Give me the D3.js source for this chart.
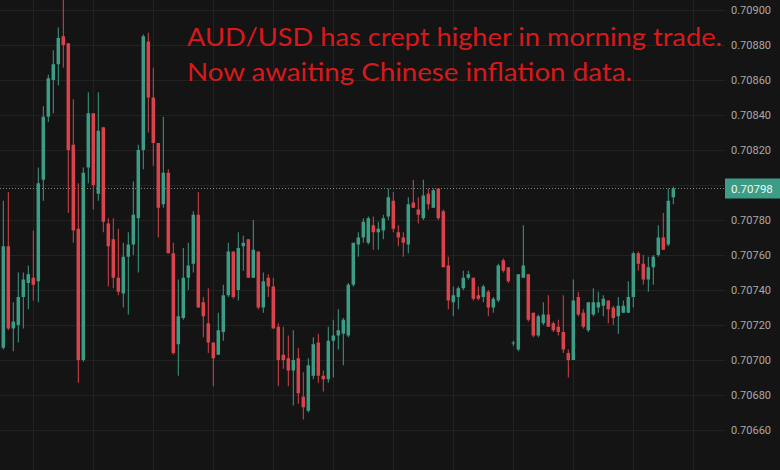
<!DOCTYPE html>
<html>
<head>
<meta charset="utf-8">
<script src="https://cdn.jsdelivr.net/npm/d3@7"></script>
<style>
  html, body { margin: 0; padding: 0; background: #141414; }
  #chart { width: 780px; height: 470px; }
</style>
</head>
<body>
<div id="chart"></div>
<script>
// AUD/USD candles, prices
const opens = [0.70707,0.70765,0.70718,0.70720,0.70736,0.70744,0.70747,0.70745,0.70803,0.70839,
  0.70860,0.70869,0.70885,0.70881,0.70823,0.70775,0.70700,0.70810,0.70841,0.70795,
  0.70833,0.70778,0.70769,0.70747,0.70738,0.70759,0.70766,0.70781,0.70820,0.70882,
  0.70850,0.70824,0.70789,0.70807,0.70761,0.70709,0.70724,0.70747,0.70755,0.70783,
  0.70733,0.70721,0.70710,0.70703,0.70716,0.70737,0.70762,0.70740,0.70765,0.70769,
  0.70747,0.70762,0.70730,0.70747,0.70742,0.70719,0.70703,0.70701,0.70694,0.70701,
  0.70679,0.70671,0.70691,0.70710,0.70691,0.70689,0.70711,0.70714,0.70715,0.70714,
  0.70743,0.70766,0.70770,0.70767,0.70777,0.70773,0.70774,0.70782,0.70791,0.70773,
  0.70770,0.70766,0.70790,0.70786,0.70781,0.70795,0.70787,0.70798,0.70785,0.70754,
  0.70733,0.70736,0.70741,0.70747,0.70747,0.70737,0.70736,0.70739,0.70730,0.70734,
  0.70757,0.70753,0.70710,0.70706,0.70747,0.70749,0.70727,0.70714,0.70721,0.70726,
  0.70721,0.70719,0.70716,0.70704,0.70700,0.70736,0.70727,0.70717,0.70726,0.70730,
  0.70731,0.70734,0.70730,0.70725,0.70727,0.70727,0.70736,0.70761,0.70755,0.70746,
  0.70753,0.70760,0.70770,0.70766,0.70793];
const highs = [0.70791,0.70796,0.70733,0.70750,0.70750,0.70754,0.70774,0.70810,0.70845,0.70863,
  0.70877,0.70890,0.70908,0.70881,0.70849,0.70801,0.70810,0.70853,0.70841,0.70853,
  0.70833,0.70781,0.70781,0.70775,0.70767,0.70773,0.70802,0.70823,0.70886,0.70887,
  0.70867,0.70824,0.70839,0.70809,0.70767,0.70746,0.70764,0.70767,0.70785,0.70796,
  0.70736,0.70741,0.70710,0.70727,0.70743,0.70767,0.70762,0.70773,0.70771,0.70769,
  0.70780,0.70762,0.70750,0.70749,0.70747,0.70721,0.70719,0.70714,0.70717,0.70707,
  0.70693,0.70701,0.70713,0.70715,0.70694,0.70719,0.70723,0.70729,0.70724,0.70744,
  0.70767,0.70773,0.70781,0.70782,0.70782,0.70779,0.70783,0.70798,0.70796,0.70777,
  0.70773,0.70793,0.70803,0.70793,0.70803,0.70798,0.70798,0.70798,0.70786,0.70759,
  0.70742,0.70742,0.70751,0.70751,0.70747,0.70742,0.70743,0.70740,0.70736,0.70755,
  0.70758,0.70753,0.70711,0.70749,0.70777,0.70749,0.70727,0.70726,0.70733,0.70737,
  0.70722,0.70723,0.70737,0.70706,0.70746,0.70739,0.70729,0.70733,0.70741,0.70739,
  0.70737,0.70734,0.70731,0.70736,0.70734,0.70745,0.70762,0.70762,0.70760,0.70759,
  0.70760,0.70777,0.70784,0.70798,0.70799];
const lows = [0.70706,0.70717,0.70705,0.70710,0.70718,0.70729,0.70734,0.70733,0.70791,0.70836,
  0.70841,0.70857,0.70867,0.70784,0.70767,0.70687,0.70699,0.70801,0.70786,0.70791,
  0.70773,0.70742,0.70741,0.70737,0.70730,0.70726,0.70760,0.70750,0.70809,0.70830,
  0.70811,0.70770,0.70787,0.70761,0.70703,0.70691,0.70723,0.70740,0.70750,0.70730,
  0.70713,0.70704,0.70685,0.70703,0.70711,0.70736,0.70735,0.70734,0.70751,0.70747,
  0.70747,0.70729,0.70727,0.70736,0.70718,0.70685,0.70695,0.70685,0.70674,0.70675,
  0.70666,0.70670,0.70689,0.70687,0.70682,0.70687,0.70690,0.70706,0.70697,0.70713,
  0.70742,0.70759,0.70767,0.70766,0.70763,0.70763,0.70769,0.70780,0.70773,0.70765,
  0.70759,0.70761,0.70787,0.70778,0.70780,0.70786,0.70787,0.70780,0.70753,0.70729,
  0.70725,0.70729,0.70740,0.70746,0.70734,0.70734,0.70733,0.70725,0.70727,0.70733,
  0.70750,0.70744,0.70708,0.70705,0.70747,0.70722,0.70713,0.70713,0.70720,0.70719,
  0.70716,0.70714,0.70704,0.70690,0.70700,0.70725,0.70718,0.70716,0.70725,0.70727,
  0.70725,0.70721,0.70720,0.70715,0.70727,0.70727,0.70730,0.70751,0.70743,0.70739,
  0.70743,0.70759,0.70763,0.70765,0.70789];
const closes = [0.70765,0.70718,0.70722,0.70736,0.70746,0.70749,0.70743,0.70801,0.70839,0.70861,
  0.70869,0.70884,0.70880,0.70820,0.70774,0.70700,0.70807,0.70841,0.70800,0.70831,
  0.70779,0.70765,0.70747,0.70739,0.70759,0.70766,0.70783,0.70820,0.70885,0.70850,
  0.70824,0.70787,0.70807,0.70761,0.70704,0.70725,0.70747,0.70754,0.70783,0.70730,
  0.70725,0.70710,0.70701,0.70717,0.70737,0.70762,0.70736,0.70764,0.70767,0.70747,
  0.70763,0.70730,0.70745,0.70742,0.70718,0.70700,0.70700,0.70694,0.70700,0.70681,
  0.70673,0.70697,0.70709,0.70691,0.70689,0.70711,0.70714,0.70717,0.70723,0.70743,
  0.70767,0.70770,0.70779,0.70781,0.70773,0.70775,0.70781,0.70793,0.70775,0.70770,
  0.70767,0.70789,0.70787,0.70783,0.70794,0.70789,0.70797,0.70781,0.70753,0.70734,
  0.70737,0.70741,0.70747,0.70749,0.70735,0.70735,0.70742,0.70730,0.70735,0.70754,
  0.70751,0.70745,0.70710,0.70749,0.70754,0.70723,0.70714,0.70725,0.70726,0.70719,
  0.70717,0.70716,0.70706,0.70700,0.70734,0.70726,0.70719,0.70733,0.70733,0.70733,
  0.70735,0.70729,0.70724,0.70731,0.70731,0.70736,0.70761,0.70755,0.70746,0.70753,
  0.70759,0.70770,0.70763,0.70791,0.70798];

const priceTicks = [0.7090,0.7088,0.7086,0.7084,0.7082,0.7080,0.7078,0.7076,0.7074,0.7072,0.7070,0.7068,0.7066];
const lastPrice = 0.70798;
const slots = 145; // visible bar slots, incl. empty space on the right

const titleLines = ["AUD/USD has crept higher in morning trade.", "Now awaiting Chinese inflation data."];

const W = 780, H = 470, plotRight = 725;
const upColor = "#3c9c86", downColor = "#d9434b";

const candles = opens.map((o, i) => ({i: i, o: o, h: highs[i], l: lows[i], c: closes[i]}));

const svg = d3.select("#chart").append("svg")
    .attr("width", W)
    .attr("height", H);

svg.append("rect").attr("width", W).attr("height", H).attr("fill", "#141414");

const x = d3.scaleLinear().domain([0, slots]).range([3.3, 3.3 + 5 * slots]);
const y = d3.scaleLinear().domain([0.7066, 0.7090]).range([430, 10]);

// grid
svg.append("g").selectAll("line.h")
    .data(priceTicks)
    .join("line")
    .attr("x1", 0).attr("x2", plotRight)
    .attr("y1", d => Math.round(y(d)) + 0.5).attr("y2", d => Math.round(y(d)) + 0.5)
    .attr("stroke", "#222222");

svg.append("g").selectAll("line.v")
    .data(d3.range(6, slots, 12))
    .join("line")
    .attr("x1", d => Math.round(x(d)) + 0.5).attr("x2", d => Math.round(x(d)) + 0.5)
    .attr("y1", 0).attr("y2", H)
    .attr("stroke", "#222222");

// last price line
svg.append("line")
    .attr("x1", 0).attr("x2", plotRight)
    .attr("y1", y(lastPrice)).attr("y2", y(lastPrice))
    .attr("stroke", "#7d8a86")
    .attr("stroke-dasharray", "1,2");

// candles
const g = svg.append("g");
g.selectAll("line.wick")
    .data(candles)
    .join("line")
    .attr("class", "wick")
    .attr("x1", d => x(d.i)).attr("x2", d => x(d.i))
    .attr("y1", d => y(d.h)).attr("y2", d => y(d.l))
    .attr("stroke", d => d.c >= d.o ? upColor : downColor)
    .attr("stroke-width", 1);

g.selectAll("rect.body")
    .data(candles)
    .join("rect")
    .attr("class", "body")
    .attr("x", d => x(d.i) - 1.75)
    .attr("width", 3.5)
    .attr("y", d => y(Math.max(d.o, d.c)))
    .attr("height", d => Math.max(1, Math.abs(y(d.o) - y(d.c))))
    .attr("fill", d => d.c >= d.o ? upColor : downColor);

// right price axis (tick hidden under the last-price tag is skipped)
const axis = svg.append("g").attr("transform", `translate(${plotRight},0)`);
axis.append("rect").attr("width", W - plotRight).attr("height", H).attr("fill", "#141414");
axis.selectAll("text")
    .data(priceTicks.filter(d => Math.abs(y(d) - y(lastPrice)) > 12))
    .join("text")
    .attr("x", 6)
    .attr("y", d => y(d))
    .attr("dy", "0.35em")
    .attr("fill", "#a9a9a9")
    .attr("font-family", "Roboto, 'Noto Sans', sans-serif")
    .attr("font-size", 11)
    .text(d => d3.format(".5f")(d));

axis.append("rect")
    .attr("x", 0).attr("y", y(lastPrice) - 10)
    .attr("width", W - plotRight).attr("height", 20)
    .attr("fill", "#3c9c86");
axis.append("text")
    .attr("x", 6).attr("y", y(lastPrice))
    .attr("dy", "0.35em")
    .attr("fill", "#eef7f4")
    .attr("font-family", "Roboto, 'Noto Sans', sans-serif")
    .attr("font-size", 11.5)
    .text(d3.format(".5f")(lastPrice));

// annotation
svg.selectAll("text.note")
    .data(titleLines)
    .join("text")
    .attr("class", "note")
    .attr("x", 187)
    .attr("y", (d, i) => 46 + i * 35)
    .attr("fill", "#d8191b")
    .attr("font-family", "Lato, 'Open Sans', sans-serif")
    .attr("font-size", 25)
    .attr("textLength", (d, i) => i === 0 ? 535 : 445)
    .attr("lengthAdjust", "spacingAndGlyphs")
    .text(d => d);
</script>
</body>
</html>
